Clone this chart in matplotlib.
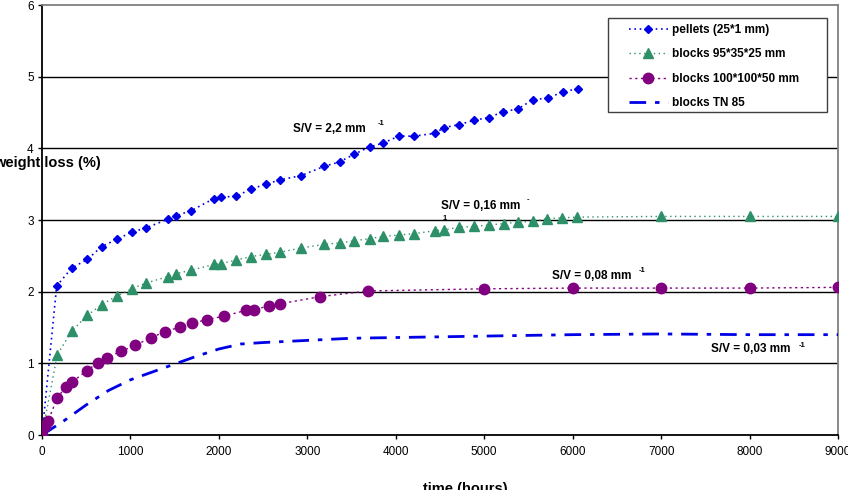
import numpy as np
import matplotlib.pyplot as plt
from matplotlib.patches import Rectangle

plt.rcParams['font.family'] = ['Liberation Sans', 'DejaVu Sans']

# pellets (25*1 mm)
pel_t = [0, 166, 336, 513, 675, 845, 1014, 1176, 1422, 1516, 1686, 1946, 2021, 2191,
         2361, 2530, 2692, 2930, 3194, 3364, 3533, 3703, 3850, 4035, 4205, 4446, 4544, 4714,
         4879, 5049, 5215, 5381, 5551, 5720, 5890, 6056]
pel_w = [0, 2.08, 2.33, 2.45, 2.63, 2.73, 2.83, 2.89, 3.01, 3.06, 3.13, 3.30, 3.32, 3.33,
         3.43, 3.50, 3.56, 3.62, 3.75, 3.81, 3.92, 4.02, 4.07, 4.17, 4.17, 4.21, 4.29, 4.33,
         4.39, 4.43, 4.51, 4.55, 4.68, 4.70, 4.79, 4.83]

# blocks 95*35*25 mm
b95_t = [0, 173, 336, 513, 675, 845, 1014, 1176, 1422, 1516, 1686, 1946, 2021, 2191,
         2361, 2530, 2692, 2930, 3194, 3364, 3533, 3703, 3850, 4035, 4205, 4446, 4544, 4714,
         4879, 5049, 5219, 5385, 5551, 5713, 5882, 6049, 7000, 8000, 9000]
b95_w = [0, 1.12, 1.45, 1.67, 1.82, 1.94, 2.04, 2.12, 2.21, 2.25, 2.30, 2.38, 2.39, 2.44,
         2.49, 2.52, 2.55, 2.61, 2.66, 2.68, 2.71, 2.74, 2.77, 2.79, 2.81, 2.85, 2.86, 2.90,
         2.91, 2.93, 2.95, 2.97, 2.98, 3.02, 3.03, 3.04, 3.05, 3.05, 3.05]

# blocks 100*100*50 mm
b100_t = [0, 34, 71, 173, 268, 343, 506, 637, 732, 897, 1056, 1229, 1395, 1565, 1700, 1867,
          2062, 2308, 2398, 2564, 2689, 3141, 3691, 5003, 6003, 7000, 8000, 9000]
b100_w = [0, 0.12, 0.20, 0.52, 0.67, 0.74, 0.90, 1.01, 1.08, 1.17, 1.25, 1.36, 1.44, 1.51, 1.56, 1.61,
          1.66, 1.74, 1.75, 1.80, 1.83, 1.93, 2.01, 2.04, 2.05, 2.05, 2.05, 2.06]

# blocks TN 85
tn_t = [0, 250, 500, 750, 1000, 1250, 1500, 1750, 2000, 2250, 2500, 3000, 3500, 4000, 4500,
        5000, 6000, 7000, 8000, 9000]
tn_w = [0, 0.20, 0.42, 0.62, 0.77, 0.88, 0.99, 1.10, 1.20, 1.27, 1.29, 1.32, 1.35, 1.36, 1.37,
        1.38, 1.40, 1.41, 1.40, 1.40]

W, H = 848, 490
fig = plt.figure(figsize=(W / 100, H / 100), dpi=100)
ax = fig.add_axes([42 / W, 1 - 435 / H, (838 - 42) / W, (435 - 5) / H])

blue = '#0000e6'
green = '#2e9068'
purple = '#800080'

ax.plot(pel_t, pel_w, linestyle=(0, (1, 2.2)), color=blue, lw=1.2, marker='D', ms=4.3,
        label='pellets (25*1 mm)', zorder=5)
ax.plot(b95_t, b95_w, linestyle=(0, (1, 2.5)), color=green, lw=1.0, marker='^', ms=7.5,
        label='blocks 95*35*25 mm', zorder=5)
ax.plot(b100_t, b100_w, linestyle=(0, (1.6, 2.5)), color=purple, lw=1.0, marker='o', ms=7.5,
        label='blocks 100*100*50 mm', zorder=5)
ax.plot(tn_t, tn_w, linestyle=(0, (6, 3.2, 1.6, 3.2)), color=blue, lw=2.0,
        label='blocks TN 85', zorder=4)

ax.set_xlim(0, 9000)
ax.set_ylim(0, 6)
ax.set_xticks(np.arange(0, 9001, 1000))
ax.set_yticks(np.arange(0, 7, 1))
ax.tick_params(labelsize=8.5, length=3, width=1, direction='out', pad=5)
ax.tick_params(axis='y', pad=3)
for y in range(1, 6):
    ax.axhline(y, color='black', lw=1.0, zorder=1)
for s in ['left', 'bottom']:
    ax.spines[s].set_color('black')
    ax.spines[s].set_linewidth(1.3)
for s in ['top', 'right']:
    ax.spines[s].set_color('#808080')
    ax.spines[s].set_linewidth(1.3)

# axis titles (partly cut off, as in the original)
fig.text(47 / W, 1 - 163 / H, 'weight loss (%)', fontsize=10.5, fontweight='bold',
         ha='center', va='center')
fig.text(465 / W, 1 - 482 / H, 'time (hours)', fontsize=10.5, fontweight='bold',
         ha='center', va='top')

# S/V annotations
bold = dict(fontsize=8.5, fontweight='bold', va='center')
sup = dict(fontsize=5.5, fontweight='bold', va='center', ha='left')
ax.text(2838, 4.27, 'S/V = 2,2 mm', ha='left', **bold)
ax.text(3800, 4.34, '-1', **sup)
ax.text(4511, 3.195, 'S/V = 0,16 mm', ha='left', **bold)
ax.text(5483, 3.29, '-', **sup)
ax.text(4530, 3.02, '1', **sup)
ax.text(5763, 2.22, 'S/V = 0,08 mm', ha='left', **bold)
ax.text(6745, 2.29, '-1', **sup)
ax.text(7561, 1.195, 'S/V = 0,03 mm', ha='left', **bold)
ax.text(8560, 1.25, '-1', **sup)

# legend with its own frame
fig.patches.append(Rectangle((608 / W, 1 - 112 / H), (827 - 608) / W, (112 - 18) / H,
                             transform=fig.transFigure, facecolor='white',
                             edgecolor='#404040', lw=1.0, zorder=10))
leg = fig.legend(loc='upper left', bbox_to_anchor=(629 / W, 1 - 24 / H), frameon=False,
                 prop={'size': 8.5, 'weight': 'bold'}, handlelength=3.3, handletextpad=0.3,
                 labelspacing=1.05, borderpad=0, borderaxespad=0, numpoints=1)
leg.set_zorder(11)

fig.savefig('out.png', dpi=100)
